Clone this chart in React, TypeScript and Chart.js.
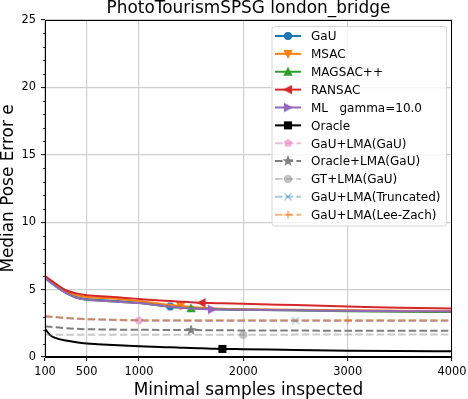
import React, { useEffect, useRef } from "react";
import { Chart, registerables } from "chart.js";

Chart.register(...registerables);

const titleText = "PhotoTourismSPSG london_bridge";
const xTitle = "Minimal samples inspected";
const yTitle = "Median Pose Error e";

const xSamples = [100, 150, 200, 300, 400, 500, 600, 800, 1000, 1200, 1300, 1400, 1500, 1600, 1700, 1800, 2000, 2500, 3000, 3500, 4000];
const xTicks = [100, 500, 1000, 2000, 3000, 4000];
const yTicks = [0, 5, 10, 15, 20, 25];

const gauValues = [5.9, 5.6, 5.3, 4.8, 4.45, 4.3, 4.25, 4.15, 4.02, 3.85, 3.75, 3.7, 3.65, 3.6, 3.56, 3.55, 3.52, 3.48, 3.45, 3.42, 3.4];
const msacValues = [5.95, 5.68, 5.4, 4.9, 4.6, 4.45, 4.4, 4.3, 4.15, 3.95, 3.85, 3.78, 3.72, 3.66, 3.62, 3.58, 3.55, 3.5, 3.47, 3.43, 3.4];
const magsacValues = [5.85, 5.55, 5.25, 4.75, 4.4, 4.25, 4.2, 4.1, 4.0, 3.82, 3.72, 3.66, 3.62, 3.58, 3.55, 3.52, 3.5, 3.45, 3.4, 3.36, 3.33];
const ransacValues = [6.0, 5.72, 5.45, 4.95, 4.72, 4.58, 4.53, 4.44, 4.3, 4.2, 4.15, 4.1, 4.06, 4.02, 4.0, 3.98, 3.95, 3.85, 3.75, 3.65, 3.6];
const mlValues = [5.85, 5.55, 5.25, 4.75, 4.4, 4.25, 4.2, 4.1, 4.0, 3.82, 3.72, 3.65, 3.6, 3.56, 3.53, 3.52, 3.5, 3.46, 3.43, 3.4, 3.38];
const oracleValues = [2.1, 1.62, 1.42, 1.22, 1.09, 1.0, 0.95, 0.87, 0.8, 0.74, 0.72, 0.69, 0.66, 0.64, 0.62, 0.6, 0.58, 0.52, 0.47, 0.44, 0.42];
const gauLmaValues = [3.0, 2.97, 2.94, 2.88, 2.83, 2.79, 2.77, 2.73, 2.7, 2.69, 2.68, 2.68, 2.67, 2.67, 2.67, 2.67, 2.67, 2.67, 2.67, 2.67, 2.67];
const oracleLmaValues = [2.27, 2.24, 2.2, 2.14, 2.09, 2.06, 2.05, 2.03, 2.02, 2.01, 2.0, 2.0, 2.0, 1.99, 1.98, 1.98, 1.97, 1.96, 1.95, 1.94, 1.94];
const gtLmaValues = [1.66, 1.65, 1.65, 1.65, 1.65, 1.65, 1.65, 1.65, 1.65, 1.65, 1.65, 1.65, 1.65, 1.65, 1.65, 1.65, 1.65, 1.66, 1.66, 1.66, 1.66];
const truncValues = [3.02, 2.99, 2.96, 2.9, 2.85, 2.81, 2.79, 2.75, 2.72, 2.71, 2.71, 2.7, 2.7, 2.7, 2.7, 2.7, 2.7, 2.7, 2.7, 2.7, 2.7];
const leeZachValues = [3.03, 3.0, 2.97, 2.91, 2.86, 2.82, 2.8, 2.76, 2.73, 2.72, 2.72, 2.72, 2.72, 2.72, 2.72, 2.72, 2.72, 2.72, 2.72, 2.72, 2.72];

const seriesNames = ["GaU", "MSAC", "MAGSAC++", "RANSAC", "ML   gamma=10.0", "Oracle", "GaU+LMA(GaU)", "Oracle+LMA(GaU)", "GT+LMA(GaU)", "GaU+LMA(Truncated)", "GaU+LMA(Lee-Zach)"];
const seriesValues = [gauValues, msacValues, magsacValues, ransacValues, mlValues, oracleValues, gauLmaValues, oracleLmaValues, gtLmaValues, truncValues, leeZachValues];
const seriesColors = ["#1f77b4", "#ff7f0e", "#2ca02c", "#d62728", "#9467bd", "#000000", "rgba(227,119,194,0.5)", "#7f7f7f", "rgba(127,127,127,0.42)", "rgba(31,119,180,0.4)", "rgba(235,120,20,0.55)"];
const seriesMarkers = ["circle", "triDown", "triUp", "triLeft", "triRight", "square", "pentagon", "star", "circle", "x", "plus"];
const seriesDashed = [false, false, false, false, false, false, true, true, true, true, true];
const markerAt = [1300, 1400, 1500, 1600, 1700, 1800, 1000, 1500, 2000, 2500, 3000];

const FONT = "'DejaVu Sans', sans-serif";
const DASH = [7.5, 3.2];

function makeMarker(kind: string, color: string): HTMLCanvasElement {
  const c = document.createElement("canvas");
  c.width = 16;
  c.height = 16;
  const g = c.getContext("2d")!;
  g.translate(8, 8);
  g.fillStyle = color;
  g.strokeStyle = color;
  g.lineWidth = 1.1;
  g.lineJoin = "miter";
  const s = 3.5;
  const poly = (pts: number[][]) => {
    g.beginPath();
    pts.forEach((p, i) => (i ? g.lineTo(p[0], p[1]) : g.moveTo(p[0], p[1])));
    g.closePath();
    g.fill();
    g.stroke();
  };
  if (kind === "circle") {
    g.beginPath();
    g.arc(0, 0, s, 0, Math.PI * 2);
    g.fill();
    g.stroke();
  } else if (kind === "square") {
    poly([[-s, -s], [s, -s], [s, s], [-s, s]]);
  } else if (kind === "triUp") {
    poly([[0, -s - 0.3], [-s - 0.3, s], [s + 0.3, s]]);
  } else if (kind === "triDown") {
    poly([[0, s + 0.3], [-s - 0.3, -s], [s + 0.3, -s]]);
  } else if (kind === "triLeft") {
    poly([[-s - 0.3, 0], [s, -s - 0.3], [s, s + 0.3]]);
  } else if (kind === "triRight") {
    poly([[s + 0.3, 0], [-s, -s - 0.3], [-s, s + 0.3]]);
  } else if (kind === "pentagon") {
    const pts: number[][] = [];
    for (let i = 0; i < 5; i++) {
      const a = -Math.PI / 2 + (i * 2 * Math.PI) / 5;
      pts.push([Math.cos(a) * (s + 0.3), Math.sin(a) * (s + 0.3)]);
    }
    poly(pts);
  } else if (kind === "star") {
    const pts: number[][] = [];
    const ro = s + 0.8;
    const ri = ro * 0.42;
    for (let i = 0; i < 10; i++) {
      const a = -Math.PI / 2 + (i * Math.PI) / 5;
      const r = i % 2 ? ri : ro;
      pts.push([Math.cos(a) * r, Math.sin(a) * r]);
    }
    poly(pts);
  } else if (kind === "x") {
    g.lineWidth = 1.5;
    g.beginPath();
    g.moveTo(-s, -s);
    g.lineTo(s, s);
    g.moveTo(-s, s);
    g.lineTo(s, -s);
    g.stroke();
  } else if (kind === "plus") {
    g.lineWidth = 1.5;
    g.beginPath();
    g.moveTo(-s - 0.5, 0);
    g.lineTo(s + 0.5, 0);
    g.moveTo(0, -s - 0.5);
    g.lineTo(0, s + 0.5);
    g.stroke();
  }
  return c;
}

export default function App() {
  const ref = useRef<HTMLCanvasElement | null>(null);

  useEffect(() => {
    if (!ref.current) return;
    const markerImgs = seriesMarkers.map((m, i) => makeMarker(m, seriesColors[i]));
    const n = seriesNames.length;

    const datasets = seriesNames.map((name, i) => {
      const mIdx = xSamples.indexOf(markerAt[i]);
      return {
        label: name,
        data: xSamples.map((x, k) => ({ x, y: seriesValues[i][k] })),
        borderColor: seriesColors[i],
        backgroundColor: seriesColors[i],
        borderWidth: 2,
        borderDash: seriesDashed[i] ? DASH : [],
        cubicInterpolationMode: "monotone" as const,
        pointStyle: markerImgs[i],
        pointRadius: (ctx: any) => (ctx.dataIndex === mIdx ? 4 : 0),
        pointHoverRadius: 0,
        fill: false,
        order: n - i,
      };
    });

    const decor = {
      id: "decor",
      afterDatasetsDraw(chart: any) {
        const ctx = chart.ctx;
        const a = chart.chartArea;
        const ys = chart.scales.y;
        ctx.save();
        ctx.strokeStyle = "#000";
        ctx.lineWidth = 1;
        const L = Math.round(a.left) + 0.5;
        const R = Math.round(a.right) - 0.5;
        const T = Math.round(a.top) + 0.5;
        const B = Math.round(a.bottom) - 0.5;
        ctx.strokeRect(L, T, R - L, B - T);
        ctx.lineWidth = 0.8;
        for (let v = 1; v < 25; v++) {
          if (v % 5 === 0) continue;
          const py = Math.round(ys.getPixelForValue(v)) + 0.5;
          ctx.beginPath();
          ctx.moveTo(L - 2.5, py);
          ctx.lineTo(L, py);
          ctx.stroke();
        }
        ctx.restore();
      },
      afterDraw(chart: any) {
        const ctx = chart.ctx;
        const a = chart.chartArea;
        ctx.save();
        ctx.fillStyle = "#000";
        ctx.font = `16.9px ${FONT}`;
        ctx.textAlign = "center";
        ctx.textBaseline = "alphabetic";
        const cx = (a.left + a.right) / 2;
        ctx.fillText(titleText, cx, 13.3);
        ctx.fillText(xTitle, cx, 395);
        ctx.save();
        ctx.translate(12.7, (a.top + a.bottom) / 2);
        ctx.rotate(-Math.PI / 2);
        ctx.fillText(yTitle, 0, 0);
        ctx.restore();

        // legend
        const bx = 272, by = 26.5, bw = 174.5, bh = 199.5, r = 2.5;
        ctx.beginPath();
        ctx.moveTo(bx + r, by);
        ctx.lineTo(bx + bw - r, by);
        ctx.quadraticCurveTo(bx + bw, by, bx + bw, by + r);
        ctx.lineTo(bx + bw, by + bh - r);
        ctx.quadraticCurveTo(bx + bw, by + bh, bx + bw - r, by + bh);
        ctx.lineTo(bx + r, by + bh);
        ctx.quadraticCurveTo(bx, by + bh, bx, by + bh - r);
        ctx.lineTo(bx, by + r);
        ctx.quadraticCurveTo(bx, by, bx + r, by);
        ctx.closePath();
        ctx.fillStyle = "rgba(255,255,255,0.8)";
        ctx.fill();
        ctx.strokeStyle = "#d6d6d6";
        ctx.lineWidth = 1;
        ctx.stroke();

        ctx.font = `12px ${FONT}`;
        ctx.textAlign = "left";
        for (let i = 0; i < n; i++) {
          const cy = 36 + i * 17.87;
          ctx.strokeStyle = seriesColors[i];
          ctx.lineWidth = 2;
          ctx.setLineDash(seriesDashed[i] ? DASH : []);
          ctx.beginPath();
          ctx.moveTo(275, cy);
          ctx.lineTo(301, cy);
          ctx.stroke();
          ctx.setLineDash([]);
          ctx.drawImage(markerImgs[i], 288 - 8, cy - 8);
          ctx.fillStyle = "#000";
          ctx.fillText(seriesNames[i], 311, cy + 4.4);
        }
        ctx.restore();
      },
    };

    const tickFont = { family: FONT, size: 11.4 };
    const chart = new Chart(ref.current, {
      type: "line",
      data: { datasets: datasets as any },
      options: {
        animation: false,
        responsive: false,
        devicePixelRatio: 1,
        events: [],
        layout: { padding: { top: 20, right: 16, left: 0, bottom: 0 } },
        plugins: {
          legend: { display: false },
          title: { display: false },
          tooltip: { enabled: false },
        },
        scales: {
          x: {
            type: "linear",
            min: 100,
            max: 4000,
            afterBuildTicks: (s: any) => {
              s.ticks = xTicks.map((v) => ({ value: v }));
            },
            afterFit: (s: any) => {
              s.height = 42;
              s.paddingLeft = 0;
              s.paddingRight = 0;
            },
            ticks: {
              font: tickFont,
              color: "#000",
              padding: 4,
              maxRotation: 0,
              autoSkip: false,
              callback: (v: any) => String(v),
            },
            grid: { color: "#cfcfcf", lineWidth: 1.2, tickColor: "#000", tickLength: 4, tickWidth: 1 },
            border: { color: "#000", width: 1 },
          },
          y: {
            type: "linear",
            min: 0,
            max: 25,
            afterBuildTicks: (s: any) => {
              s.ticks = yTicks.map((v) => ({ value: v }));
            },
            afterFit: (s: any) => {
              s.width = 45;
              s.paddingTop = 0;
              s.paddingBottom = 0;
            },
            ticks: {
              font: tickFont,
              color: "#000",
              padding: 5,
              callback: (v: any) => String(v),
            },
            grid: { color: "#cfcfcf", lineWidth: 1.2, tickColor: "#000", tickLength: 4, tickWidth: 1 },
            border: { color: "#000", width: 1 },
          },
        },
      },
      plugins: [decor],
    });
    return () => chart.destroy();
  }, []);

  return (
    <div style={{ position: "absolute", left: 0, top: 0, width: 468, height: 399, background: "#fff" }}>
      <canvas ref={ref} width={468} height={399} style={{ display: "block" }} />
    </div>
  );
}
